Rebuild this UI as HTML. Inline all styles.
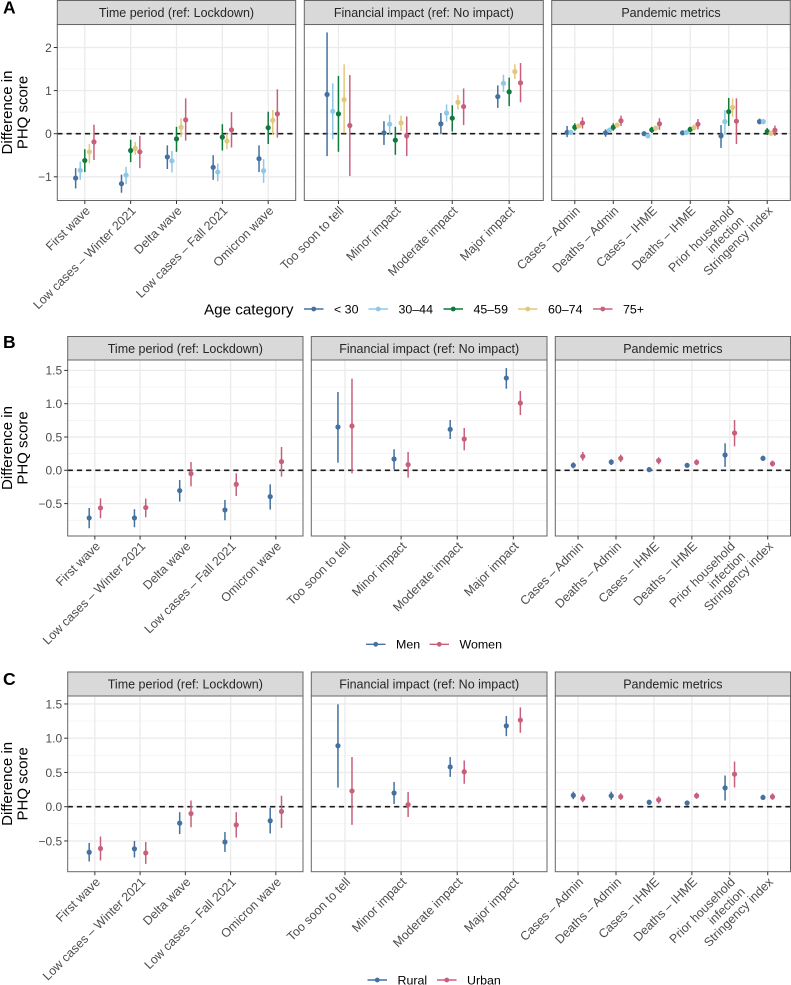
<!DOCTYPE html>
<html lang="en">
<head>
<meta charset="utf-8">
<title>Difference in PHQ score by age, gender and rurality</title>
<style>
html,body{margin:0;padding:0;background:#fff;}
svg{display:block;font-family:"Liberation Sans",Arial,sans-serif;}
</style>
</head>
<body>
<svg id="figure" xmlns="http://www.w3.org/2000/svg" width="791" height="985" viewBox="0 0 791 985"></svg>
<script>
// ---------- shared categories ----------
const panelTitles = ["Time period (ref: Lockdown)", "Financial impact (ref: No impact)", "Pandemic metrics"];
const timeCategories = ["First wave", "Low cases \u2013 Winter 2021", "Delta wave", "Low cases \u2013 Fall 2021", "Omicron wave"];
const financialCategories = ["Too soon to tell", "Minor impact", "Moderate impact", "Major impact"];
const pandemicCategories = ["Cases \u2013 Admin", "Deaths \u2013 Admin", "Cases \u2013 IHME", "Deaths \u2013 IHME", "Prior household|infection", "Stringency index"];

// ---------- series names and tick labels ----------
const ageSeries = ["< 30", "30\u201344", "45\u201359", "60\u201374", "75+"];
const genderSeries = ["Men", "Women"];
const ruralitySeries = ["Rural", "Urban"];
const ageTicks = [-1, 0, 1, 2];
const ageMinorTicks = [-1.5, -0.5, 0.5, 1.5, 2.5];
const genderTicks = [-0.5, 0, 0.5, 1, 1.5];
const genderMinorTicks = [-0.75, -0.25, 0.25, 0.75, 1.25];
const ruralityTicks = [-0.5, 0, 0.5, 1, 1.5];
const ruralityMinorTicks = [-0.75, -0.25, 0.25, 0.75, 1.25];

// ---------- Panel A: age category (rows = series, columns = categories) ----------
const ageTimeEst = [[-1.03,-1.16,-0.54,-0.78,-0.58],[-0.85,-0.96,-0.63,-0.89,-0.86],[-0.62,-0.39,-0.12,-0.08,0.14],[-0.42,-0.34,0.15,-0.17,0.31],[-0.19,-0.42,0.32,0.09,0.46]];
const ageTimeLow = [[-1.27,-1.37,-0.82,-1.07,-0.89],[-1.07,-1.17,-0.90,-1.10,-1.14],[-0.89,-0.66,-0.42,-0.39,-0.24],[-0.69,-0.49,-0.08,-0.36,-0.03],[-0.61,-0.80,-0.16,-0.32,-0.09]];
const ageTimeHigh = [[-0.80,-0.95,-0.27,-0.50,-0.27],[-0.65,-0.77,-0.40,-0.69,-0.59],[-0.36,-0.14,0.16,0.22,0.51],[-0.24,-0.19,0.36,0.01,0.55],[0.21,-0.05,0.82,0.50,1.03]];
const ageFinEst = [[0.91,0.02,0.23,0.86],[0.52,0.22,0.48,1.17],[0.46,-0.15,0.36,0.97],[0.79,0.25,0.73,1.44],[0.19,-0.05,0.63,1.18]];
const ageFinLow = [[-0.52,-0.26,-0.01,0.60],[-0.13,-0.03,0.28,0.97],[-0.42,-0.49,0.05,0.64],[0.01,0.06,0.56,1.27],[-0.98,-0.52,0.20,0.73]];
const ageFinHigh = [[2.35,0.29,0.48,1.12],[1.17,0.44,0.68,1.37],[1.34,0.16,0.66,1.30],[1.61,0.42,0.90,1.61],[1.36,0.40,1.05,1.64]];
const agePanEst = [[0.03,0.02,0,0.02,-0.05,0.28],[0.03,0.08,-0.05,0.03,0.28,0.28],[0.15,0.15,0.09,0.10,0.51,0.05],[0.18,0.20,0.13,0.14,0.61,0.01],[0.25,0.30,0.23,0.22,0.29,0.08]];
const agePanLow = [[-0.08,-0.07,-0.05,-0.03,-0.33,0.22],[-0.03,0.01,-0.10,-0.02,-0.02,0.22],[0.07,0.07,0.02,0.03,0.18,-0.03],[0.12,0.14,0.07,0.08,0.39,-0.03],[0.12,0.18,0.09,0.10,-0.24,-0.05]];
const agePanHigh = [[0.18,0.10,0.05,0.06,0.20,0.35],[0.08,0.14,-0.01,0.08,0.55,0.34],[0.24,0.24,0.16,0.16,0.83,0.13],[0.24,0.25,0.19,0.21,0.82,0.05],[0.38,0.42,0.36,0.34,0.82,0.19]];

// ---------- Panel B: gender ----------
const genderTimeEst = [[-0.715,-0.715,-0.305,-0.595,-0.395],[-0.565,-0.56,-0.05,-0.21,0.13]];
const genderTimeLow = [[-0.87,-0.855,-0.47,-0.75,-0.59],[-0.72,-0.705,-0.24,-0.385,-0.095]];
const genderTimeHigh = [[-0.565,-0.585,-0.145,-0.445,-0.21],[-0.42,-0.425,0.125,-0.045,0.35]];
const genderFinEst = [[0.65,0.17,0.615,1.385],[0.665,0.085,0.47,1.01]];
const genderFinLow = [[0.115,0.015,0.47,1.225],[-0.045,-0.11,0.30,0.83]];
const genderFinHigh = [[1.175,0.315,0.755,1.535],[1.375,0.275,0.635,1.19]];
const genderPanEst = [[0.075,0.125,0.01,0.075,0.23,0.18],[0.21,0.18,0.145,0.12,0.56,0.10]];
const genderPanLow = [[0.03,0.08,-0.025,0.04,0.05,0.14],[0.145,0.125,0.09,0.075,0.36,0.055]];
const genderPanHigh = [[0.12,0.165,0.045,0.11,0.405,0.22],[0.275,0.235,0.195,0.165,0.755,0.145]];

// ---------- Panel C: rurality ----------
const ruralTimeEst = [[-0.665,-0.615,-0.24,-0.515,-0.205],[-0.61,-0.675,-0.10,-0.265,-0.07]];
const ruralTimeLow = [[-0.80,-0.74,-0.40,-0.66,-0.39],[-0.785,-0.835,-0.30,-0.45,-0.31]];
const ruralTimeHigh = [[-0.53,-0.50,-0.08,-0.37,-0.015],[-0.435,-0.515,0.09,-0.08,0.16]];
const ruralFinEst = [[0.89,0.20,0.58,1.18],[0.23,0.03,0.51,1.265]];
const ruralFinLow = [[0.28,0.04,0.435,1.03],[-0.265,-0.15,0.335,1.08]];
const ruralFinHigh = [[1.495,0.36,0.725,1.325],[0.725,0.215,0.675,1.45]];
const ruralPanEst = [[0.165,0.16,0.065,0.055,0.275,0.135],[0.12,0.145,0.10,0.16,0.475,0.145]];
const ruralPanLow = [[0.11,0.10,0.025,0.015,0.09,0.10],[0.065,0.10,0.045,0.115,0.28,0.10]];
const ruralPanHigh = [[0.22,0.22,0.10,0.09,0.455,0.175],[0.18,0.195,0.15,0.205,0.66,0.195]];

// ---------- styling ----------
const fiveColours = ["#44719f", "#8fc8e6", "#0f7a3c", "#e2c87e", "#c8607c"];
const twoColours = ["#44719f", "#c8607c"];
const NS = "http://www.w3.org/2000/svg";
const root = document.getElementById("figure");

function node(parent, tag, attrs, text) {
  const el = document.createElementNS(NS, tag);
  for (const k in attrs) el.setAttribute(k, attrs[k]);
  if (text !== undefined) el.textContent = text;
  parent.appendChild(el);
  return el;
}
function slug(s) {
  return s.toLowerCase().replace(/[^a-z0-9]+/g, "-").replace(/^-|-$/g, "");
}
function fmtTick(v, digits) {
  const s = Math.abs(v).toFixed(digits);
  return (v < 0 ? "\u2212" : "") + s;
}

function drawPanel(chart, p, idx) {
  const g = node(root, "g", {});
  
  

  const y = v => chart.y0 - v * chart.k;
  const step = (p.right - p.left) / (p.cats.length - 1 + 1.2);
  const x = i => p.left + (0.6 + i) * step;
  const nSeries = p.est.length;
  const off = s => (s - (nSeries - 1) / 2) * chart.dodge * step;

  // strip
  const strip = node(g, "rect", {x: p.left, y: chart.stripTop, width: p.right - p.left, height: chart.top - chart.stripTop, fill: "#d9d9d9", stroke: "#666", "stroke-width": 1});
  
  
  const stripText = node(g, "text", {x: (p.left + p.right) / 2, y: (chart.stripTop + chart.top) / 2 + 4.5, "text-anchor": "middle", "font-size": 12.5, fill: "#262626"}, p.title);
  
  

  // background
  const bg = node(g, "rect", {x: p.left, y: chart.top, width: p.right - p.left, height: chart.bottom - chart.top, fill: "#fff"});
  
  

  // gridlines
  chart.minorTicks.forEach(v => {
    if (y(v) <= chart.top || y(v) >= chart.bottom) return;
    const l = node(g, "line", {x1: p.left, x2: p.right, y1: y(v), y2: y(v), stroke: "#f0f0f0", "stroke-width": 0.7});
    
    
  });
  chart.ticks.forEach(v => {
    const l = node(g, "line", {x1: p.left, x2: p.right, y1: y(v), y2: y(v), stroke: "#ebebeb", "stroke-width": 1.3});
    
    
  });
  p.cats.forEach((c, i) => {
    const l = node(g, "line", {x1: x(i), x2: x(i), y1: chart.top, y2: chart.bottom, stroke: "#ebebeb", "stroke-width": 1.3});
    
    
  });

  // zero reference line
  const zero = node(g, "line", {x1: p.left, x2: p.right, y1: y(0), y2: y(0), stroke: "#1a1a1a", "stroke-width": 1.6, "stroke-dasharray": "5.2 4"});
  
  

  // point ranges
  p.est.forEach((row, s) => {
    row.forEach((v, i) => {
      const cx = x(i) + off(s);
      const range = node(g, "line", {x1: cx, x2: cx, y1: y(p.low[s][i]), y2: y(p.high[s][i]), stroke: chart.colours[s], "stroke-width": 1.5});
      
      
      const dot = node(g, "circle", {cx: cx, cy: y(v), r: 2.6, fill: chart.colours[s]});
      
      
    });
  });

  // border
  const border = node(g, "rect", {x: p.left, y: chart.top, width: p.right - p.left, height: chart.bottom - chart.top, fill: "none", stroke: "#666", "stroke-width": 1});
  
  

  // x ticks and labels
  p.cats.forEach((c, i) => {
    const tick = node(g, "line", {x1: x(i), x2: x(i), y1: chart.bottom, y2: chart.bottom + 3.5, stroke: "#333", "stroke-width": 1});
    
    
    const ax = x(i) + 6, ay = chart.bottom + 11;
    const label = node(g, "text", {transform: "translate(" + ax + "," + ay + ") rotate(-45)", "text-anchor": "end", "font-size": 12.4, fill: "#4d4d4d"});
    
    
    c.split("|").forEach((line, li) => {
      node(label, "tspan", {x: 0, y: li * 14}, line);
    });
  });

  // y ticks and labels on first panel only
  if (idx === 0) {
    chart.ticks.forEach(v => {
      const t = node(g, "line", {x1: p.left - 3.5, x2: p.left, y1: y(v), y2: y(v), stroke: "#333", "stroke-width": 1});
      
      
      const lab = node(g, "text", {x: p.left - 5.5, y: y(v) + 4.3, "text-anchor": "end", "font-size": 12, fill: "#4d4d4d"}, fmtTick(v, chart.tickDigits));
      
      
    });
  }
}

function drawChart(chart) {
  chart.panels.forEach((p, i) => drawPanel(chart, p, i));

  // tag letter
  const tag = node(root, "text", {x: 3, y: chart.tagY, "font-size": 17.5, "font-weight": "bold", fill: "#000"}, chart.tag);
  
  

  // y axis title
  const midY = (chart.top + chart.bottom) / 2;
  const title = node(root, "text", {transform: "translate(0," + midY + ") rotate(-90)", "text-anchor": "middle", "font-size": 15, fill: "#000"});
  
  
  node(title, "tspan", {x: 0, y: 12}, "Difference in");
  node(title, "tspan", {x: 0, y: 27.5}, "PHQ score");

  // legend
  const legend = node(root, "g", {});
  
  
  if (chart.legendTitle) {
    const lt = node(legend, "text", {x: chart.legendTitleX, y: chart.legendY + 5.3, "font-size": 15.2, fill: "#000"}, chart.legendTitle);
    
    
  }
  chart.series.forEach((name, s) => {
    const kx = chart.legendKeys[s];
    const entry = node(legend, "g", {});
    
    
    node(entry, "line", {x1: kx, x2: kx + 19.5, y1: chart.legendY, y2: chart.legendY, stroke: chart.colours[s], "stroke-width": 1.4});
    node(entry, "circle", {cx: kx + 9.75, cy: chart.legendY, r: 2.4, fill: chart.colours[s]});
    node(entry, "text", {x: kx + 30, y: chart.legendY + 4.4, "font-size": 12.4, fill: "#000"}, name);
  });
}

drawChart({
  key: "age", tag: "A", tagY: 13.5, series: ageSeries, colours: fiveColours, dodge: 0.1,
  stripTop: 0.5, top: 24.5, bottom: 200.5, y0: 133.7, k: 43.1,
  ticks: ageTicks, minorTicks: ageMinorTicks, tickDigits: 0,
  legendTitle: "Age category", legendTitleX: 204, legendY: 309,
  legendKeys: [304, 368.5, 443.5, 518, 593],
  panels: [
    {title: panelTitles[0], left: 57.3, right: 295.7, cats: timeCategories, est: ageTimeEst, low: ageTimeLow, high: ageTimeHigh},
    {title: panelTitles[1], left: 304.3, right: 543.3, cats: financialCategories, est: ageFinEst, low: ageFinLow, high: ageFinHigh},
    {title: panelTitles[2], left: 551.7, right: 790.3, cats: pandemicCategories, est: agePanEst, low: agePanLow, high: agePanHigh}
  ]
});

drawChart({
  key: "gender", tag: "B", tagY: 348, series: genderSeries, colours: twoColours, dodge: 0.25,
  stripTop: 336.5, top: 360, bottom: 536, y0: 470.3, k: 66.6,
  ticks: genderTicks, minorTicks: genderMinorTicks, tickDigits: 1,
  legendTitle: "", legendTitleX: 0, legendY: 644.3,
  legendKeys: [366, 429.5],
  panels: [
    {title: panelTitles[0], left: 67.7, right: 303, cats: timeCategories, est: genderTimeEst, low: genderTimeLow, high: genderTimeHigh},
    {title: panelTitles[1], left: 311.3, right: 547, cats: financialCategories, est: genderFinEst, low: genderFinLow, high: genderFinHigh},
    {title: panelTitles[2], left: 555.3, right: 790.5, cats: pandemicCategories, est: genderPanEst, low: genderPanLow, high: genderPanHigh}
  ]
});

drawChart({
  key: "rurality", tag: "C", tagY: 685, series: ruralitySeries, colours: twoColours, dodge: 0.25,
  stripTop: 672, top: 696, bottom: 871.7, y0: 806.7, k: 68.5,
  ticks: ruralityTicks, minorTicks: ruralityMinorTicks, tickDigits: 1,
  legendTitle: "", legendTitleX: 0, legendY: 980,
  legendKeys: [367.5, 437],
  panels: [
    {title: panelTitles[0], left: 67.7, right: 303, cats: timeCategories, est: ruralTimeEst, low: ruralTimeLow, high: ruralTimeHigh},
    {title: panelTitles[1], left: 311.3, right: 547, cats: financialCategories, est: ruralFinEst, low: ruralFinLow, high: ruralFinHigh},
    {title: panelTitles[2], left: 555.3, right: 790.5, cats: pandemicCategories, est: ruralPanEst, low: ruralPanLow, high: ruralPanHigh}
  ]
});
</script>
</body>
</html>
